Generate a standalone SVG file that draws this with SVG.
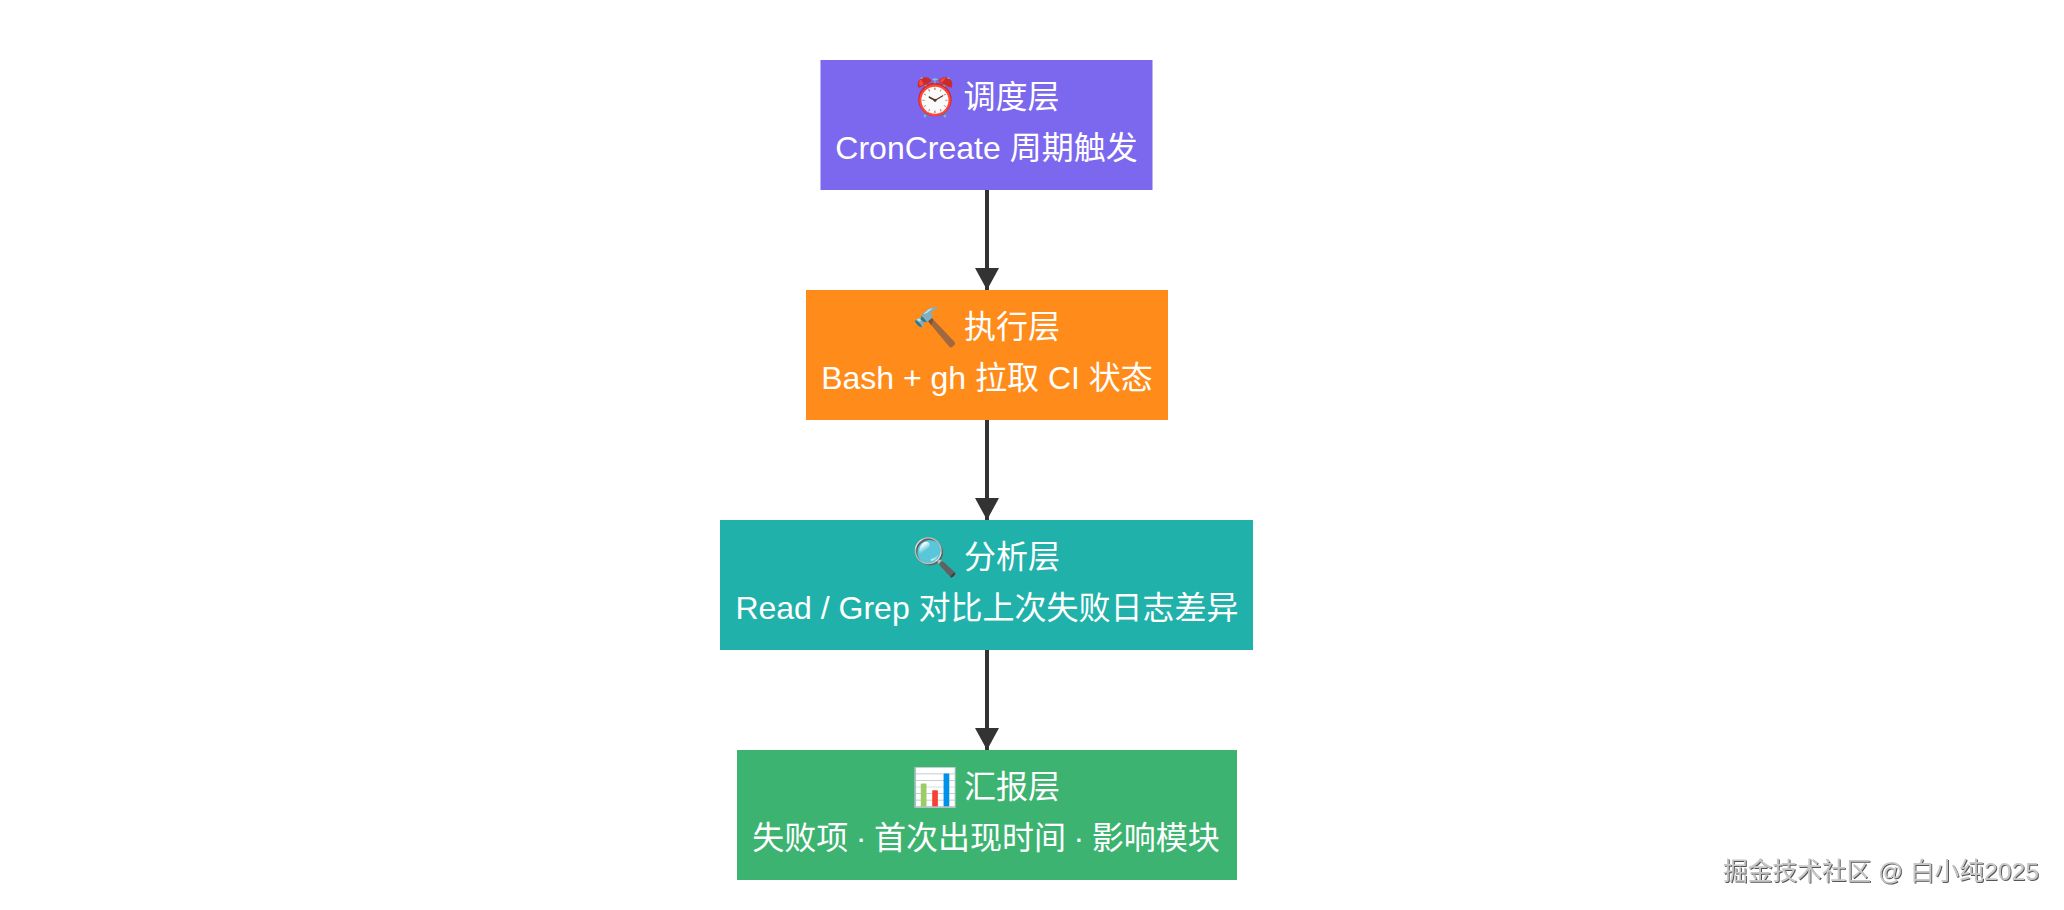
<svg xmlns="http://www.w3.org/2000/svg" width="2064" height="910" viewBox="0 0 2064 910">
<style>
text{font-family:"Liberation Sans","Noto Sans CJK SC",sans-serif}
.t{font-size:32px;fill:#fff;text-anchor:middle}
.h{word-spacing:-3px}
.i{font-size:37px}
.e{stroke:#333;stroke-width:4;fill:none;marker-end:url(#a)}
.w{font-size:24.7px;fill:#c8c8c8;filter:url(#s)}
</style>
<defs>
<marker id="a" markerUnits="userSpaceOnUse" markerWidth="22" markerHeight="24" refX="22" refY="12" orient="auto"><path d="M0 0L22 12L0 24Z" fill="#333"/></marker>
<filter id="s" x="-5%" y="-20%" width="110%" height="140%"><feDropShadow dx="1" dy="1" stdDeviation="0.6" flood-color="#555"/></filter>
</defs>
<rect width="2064" height="910" fill="#fff"/>
<g id="connectors">
<path class="e" d="M987 190V290"/>
<path class="e" d="M987 420V520"/>
<path class="e" d="M987 650V750"/>
</g>
<g id="n1"><rect x="820.5" y="60" width="332" height="130" fill="#7b68ee"/><text class="t h" x="985.5" y="108"><tspan class="i" dy="2">⏰</tspan><tspan dy="-2"> 调度层</tspan></text><text class="t" x="986.5" y="159">CronCreate 周期触发</text></g>
<g id="n2"><rect x="806" y="290" width="362" height="130" fill="#ff8c1a"/><text class="t h" x="986" y="338"><tspan class="i" dy="2">🔨</tspan><tspan dy="-2"> 执行层</tspan></text><text class="t" x="987" y="389">Bash + gh 拉取 CI 状态</text></g>
<g id="n3"><rect x="720" y="520" width="533" height="130" fill="#20b2aa"/><text class="t h" x="986" y="568"><tspan class="i" dy="2">🔍</tspan><tspan dy="-2"> 分析层</tspan></text><text class="t" x="987" y="619">Read / Grep 对比上次失败日志差异</text></g>
<g id="n4"><rect x="737" y="750" width="500" height="130" fill="#3cb371"/><text class="t h" x="986" y="798"><tspan class="i" dy="2">📊</tspan><tspan dy="-2"> 汇报层</tspan></text><text class="t" x="986" y="849" word-spacing="-1.3">失败项 · 首次出现时间 · 影响模块</text></g>
<text class="w" x="1723" y="880">掘金技术社区 @ 白小纯2025</text>
</svg>
